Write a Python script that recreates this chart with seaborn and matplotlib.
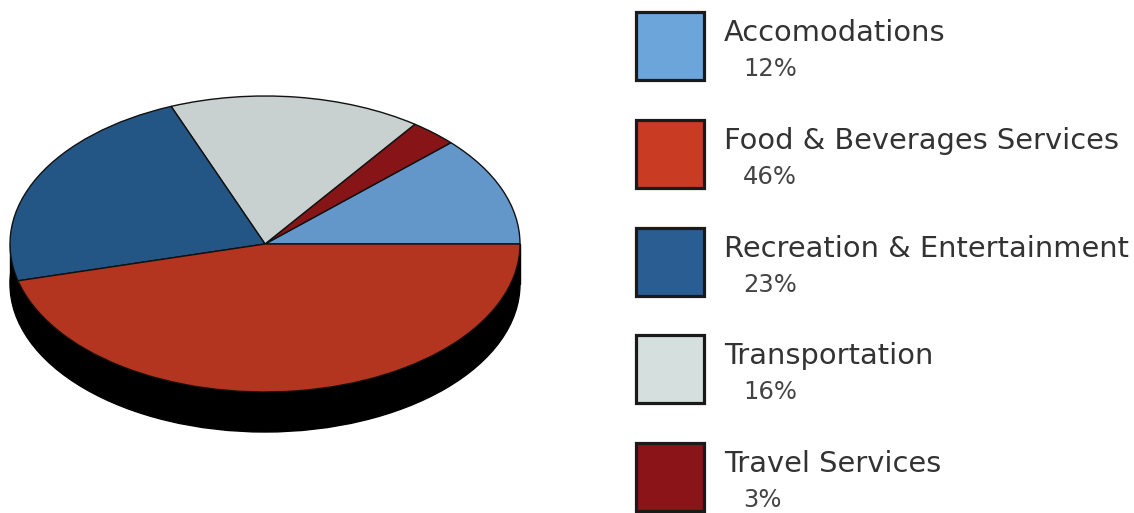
import matplotlib
matplotlib.use("Agg")
import matplotlib.pyplot as plt
from matplotlib.patches import Rectangle, Ellipse
import seaborn as sns

# ---- data ----
categories = ["Accomodations", "Food & Beverages Services",
              "Recreation & Entertainment", "Transportation", "Travel Services"]
shares = [12, 46, 23, 16, 3]
pct_labels = ["12%", "46%", "23%", "16%", "3%"]
# order of slices counter-clockwise from 3 o'clock
pie_order = ["Accomodations", "Travel Services", "Transportation",
             "Recreation & Entertainment", "Food & Beverages Services"]

sns.set_theme(style="white")
plt.rcParams['font.family'] = ['DejaVu Sans']

pie_pal = dict(zip(categories, sns.color_palette(
    ["#6497c9", "#b3341f", "#245685", "#c8d1cf", "#871517"])))
leg_pal = dict(zip(categories, sns.color_palette(
    ["#6ba5da", "#c93b23", "#2a5d92", "#d5dfde", "#8a1418"])))

W, H = 1134, 513
fig = plt.figure(figsize=(W / 100, H / 100), dpi=100)
fig.patch.set_facecolor("white")

# ---- pie (tilted, with black extrusion) ----
rx, ry, depth = 255, 148, 40
cx, cy = 265, 244
pad = 6
left, right = cx - rx - pad, cx + rx + pad
top, bottom = cy - ry - pad, cy + ry + depth + pad
ax = fig.add_axes([left / W, 1 - bottom / H, (right - left) / W, (bottom - top) / H])
d = depth / ry
ax.add_patch(Ellipse((0, -d), 2, 2, fc="black", ec="black", lw=1, zorder=0))
ax.add_patch(Rectangle((-1, -d), 2, d, fc="black", ec="black", lw=1, zorder=0))
vals = [shares[categories.index(c)] for c in pie_order]
ax.pie(vals, colors=[pie_pal[c] for c in pie_order], startangle=0, counterclock=True,
       radius=1, center=(0, 0), frame=True,
       wedgeprops=dict(edgecolor="#111111", linewidth=1.0))
ax.set_aspect("auto")
ax.set_xlim(-1 - pad / rx, 1 + pad / rx)
ax.set_ylim(-1 - d - pad / ry, 1 + pad / ry)
ax.axis("off")

# ---- legend ----
lg = fig.add_axes([0, 0, 1, 1])
lg.set_xlim(0, W)
lg.set_ylim(H, 0)
lg.axis("off")
top0, step = 12, 107.8
for i, (cat, pct) in enumerate(zip(categories, pct_labels)):
    y0 = top0 + i * step
    lg.add_patch(Rectangle((636, y0), 68, 68, fc=leg_pal[cat], ec="#1a1a1a", lw=2.3))
    lg.text(724, y0 + 21, cat, fontsize=20.8, color="#333333", va="center", ha="left")
    lg.text(743, y0 + 57, pct, fontsize=17.5, color="#444444", va="center", ha="left")

fig.savefig("out.png", dpi=100, facecolor="white")
